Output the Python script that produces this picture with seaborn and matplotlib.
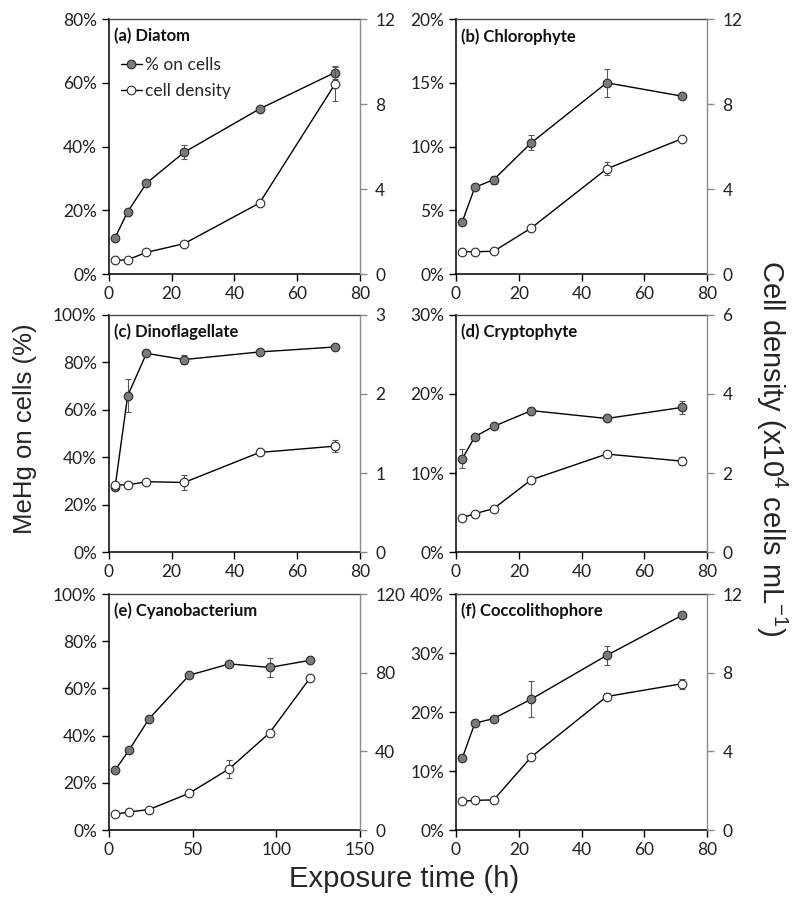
import numpy as np
import pandas as pd
import seaborn as sns
import matplotlib.pyplot as plt
from matplotlib.ticker import PercentFormatter, MultipleLocator
from matplotlib.lines import Line2D

# exposure times (h)
time_std = [2, 6, 12, 24, 48, 72]
time_cyano = [4, 12, 24, 48, 72, 96, 120]

# % MeHg on cells
pct_diatom = [11.4, 19.5, 28.5, 38.2, 51.8, 63.2]
pct_chloro = [4.1, 6.8, 7.4, 10.3, 15.0, 13.95]
pct_dino = [27.4, 65.9, 83.8, 81.2, 84.4, 86.5]
pct_crypto = [11.8, 14.6, 15.9, 17.9, 16.9, 18.3]
pct_cyano = [25.6, 33.8, 47.1, 65.6, 70.4, 68.9, 71.9]
pct_cocco = [12.2, 18.1, 18.9, 22.2, 29.6, 36.4]

pct_err_diatom = [0, 0, 0, 2.2, 0, 2.0]
pct_err_chloro = [0, 0, 0.3, 0.6, 1.1, 0]
pct_err_dino = [0, 7.0, 0, 2.0, 0, 0]
pct_err_crypto = [1.2, 0, 0, 0, 0, 0.8]
pct_err_cyano = [0, 0, 0, 0, 0, 4.0, 0]
pct_err_cocco = [0, 0, 0, 3.0, 1.6, 0]

# cell density (x10^4 cells/mL)
dens_diatom = [0.64, 0.67, 1.02, 1.43, 3.34, 8.93]
dens_chloro = [1.05, 1.05, 1.07, 2.17, 4.95, 6.37]
dens_dino = [0.85, 0.85, 0.89, 0.88, 1.26, 1.34]
dens_crypto = [0.87, 0.97, 1.10, 1.83, 2.48, 2.30]
dens_cyano = [8.0, 9.2, 10.4, 18.7, 31.2, 49.4, 77.1]
dens_cocco = [1.46, 1.51, 1.53, 3.72, 6.79, 7.44]

dens_err_diatom = [0, 0, 0, 0, 0, 0.8]
dens_err_chloro = [0, 0, 0, 0, 0.3, 0]
dens_err_dino = [0, 0, 0, 0.1, 0, 0.08]
dens_err_crypto = [0, 0, 0, 0, 0, 0.1]
dens_err_cyano = [0, 0, 0, 0, 4.5, 0, 0]
dens_err_cocco = [0, 0, 0, 0, 0.2, 0.25]

panels = [
    ("(a) Diatom", time_std, pct_diatom, pct_err_diatom, dens_diatom, dens_err_diatom, 80, 20, 12, 4, 80, 20),
    ("(b) Chlorophyte", time_std, pct_chloro, pct_err_chloro, dens_chloro, dens_err_chloro, 20, 5, 12, 4, 80, 20),
    ("(c) Dinoflagellate", time_std, pct_dino, pct_err_dino, dens_dino, dens_err_dino, 100, 20, 3, 1, 80, 20),
    ("(d) Cryptophyte", time_std, pct_crypto, pct_err_crypto, dens_crypto, dens_err_crypto, 30, 10, 6, 2, 80, 20),
    ("(e) Cyanobacterium", time_cyano, pct_cyano, pct_err_cyano, dens_cyano, dens_err_cyano, 100, 20, 120, 40, 150, 50),
    ("(f) Coccolithophore", time_std, pct_cocco, pct_err_cocco, dens_cocco, dens_err_cocco, 40, 10, 12, 4, 80, 20),
]

sns.set_style("ticks")
plt.rcParams['font.family'] = ['Lato', 'DejaVu Sans']
plt.rcParams['mathtext.fontset'] = 'custom'
plt.rcParams['mathtext.rm'] = 'Liberation Sans'
plt.rcParams['mathtext.it'] = 'Liberation Sans:italic'

fig = plt.figure(figsize=(8, 9.02), dpi=100)

lefts = [0.136, 0.570]
rows = [(0.6962, 0.2827), (0.388, 0.2628), (0.0798, 0.2616)]

fill_c = '#7a7a7a'
edge_c = '#2a2a2a'
ms = 6.2

for i, (title, t, pct, pct_err, dens, dens_err, ymax, ystep, y2max, y2step, xmax, xstep) in enumerate(panels):
    b, h = rows[i // 2]
    ax = fig.add_axes([lefts[i % 2], b, 0.314, h])
    ax2 = ax.twinx()

    df = pd.DataFrame({"time": t, "pct": pct, "dens": dens})

    ax.errorbar(t, pct, yerr=pct_err, fmt='none', ecolor='#555555', elinewidth=0.8, capsize=2, capthick=0.8)
    sns.lineplot(data=df, x="time", y="pct", ax=ax, color='black', lw=1.0, marker='o', ms=ms,
                 markerfacecolor=fill_c, markeredgecolor=edge_c, markeredgewidth=0.8)
    ax2.errorbar(t, dens, yerr=dens_err, fmt='none', ecolor='#555555', elinewidth=0.8, capsize=2, capthick=0.8)
    sns.lineplot(data=df, x="time", y="dens", ax=ax2, color='black', lw=1.0, marker='o', ms=ms,
                 markerfacecolor='white', markeredgecolor=edge_c, markeredgewidth=0.8)

    ax.set_xlim(0, xmax)
    ax.set_ylim(0, ymax)
    ax2.set_ylim(0, y2max)
    ax.xaxis.set_major_locator(MultipleLocator(xstep))
    ax.yaxis.set_major_locator(MultipleLocator(ystep))
    ax2.yaxis.set_major_locator(MultipleLocator(y2step))
    ax.yaxis.set_major_formatter(PercentFormatter(xmax=100, decimals=0))
    ax.set_xlabel("")
    ax.set_ylabel("")
    ax2.set_ylabel("")

    for s in ['left', 'bottom']:
        ax.spines[s].set_color('black')
        ax.spines[s].set_linewidth(1.1)
    ax.spines['top'].set_visible(True)
    ax.spines['top'].set_color('#444444')
    ax.spines['top'].set_linewidth(1.0)
    ax.spines['right'].set_visible(False)
    for s in ['left', 'bottom', 'top']:
        ax2.spines[s].set_visible(False)
    ax2.spines['right'].set_visible(True)
    ax2.spines['right'].set_color('#8a8a8a')
    ax2.spines['right'].set_linewidth(1.0)

    ax.tick_params(axis='both', direction='out', length=5, width=1, colors='black',
                   labelsize=12.5, labelcolor='#222222')
    ax2.tick_params(axis='y', direction='out', length=5, width=1, colors='#8a8a8a',
                    labelsize=12.5, labelcolor='#222222', pad=6)

    ax.text(0.02, 0.965, title, transform=ax.transAxes, ha='left', va='top',
            fontsize=12, fontweight='bold', color='#111111')

    if i == 0:
        handles = [
            Line2D([], [], color='black', lw=1.0, marker='o', ms=ms, markerfacecolor=fill_c,
                   markeredgecolor=edge_c, markeredgewidth=0.8),
            Line2D([], [], color='black', lw=1.0, marker='o', ms=ms, markerfacecolor='white',
                   markeredgecolor=edge_c, markeredgewidth=0.8),
        ]
        ax2.legend(handles, ["% on cells", "cell density"], loc='upper left', bbox_to_anchor=(0.0, 0.9),
                   frameon=False, fontsize=12.5, handlelength=1.2, handletextpad=0.2, labelspacing=0.6,
                   borderaxespad=0.3)

fig.text(0.031, 0.525, "MeHg on cells (%)", rotation=90, ha='center', va='center',
         fontsize=18.5, family='Liberation Sans')
fig.text(0.965, 0.503, "Cell density (x10$^{4}$ cells mL$^{\\mathrm{-1}}$)", rotation=270, ha='center', va='center',
         fontsize=21, family='Liberation Sans')
fig.text(0.505, 0.026, "Exposure time (h)", ha='center', va='center', fontsize=21, family='Liberation Sans')

fig.savefig("out.png", dpi=100)
